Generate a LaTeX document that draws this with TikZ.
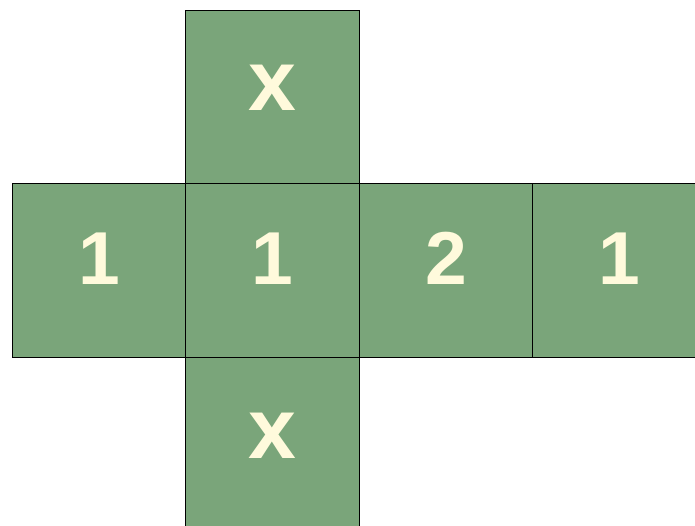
\documentclass[tikz,border=0pt]{standalone}
\usepackage{fontspec}
\setmainfont{Liberation Sans}
\usetikzlibrary{positioning}
\definecolor{colorFace}{HTML}{7AA57A}
\definecolor{colorMark}{HTML}{FFFADC}
\def\colorFace{colorFace}
\def\colorMark{colorMark}

\begin{document}
\begin{tikzpicture}[x=1pt, y=1pt,
    face/.style={draw=black, line width=0.9pt, fill=\colorFace, minimum size=173.5pt, inner sep=0pt, outer sep=0pt},
    facemark/.style={text=\colorMark, font=\bfseries\fontsize{75pt}{75pt}\selectfont, inner sep=0pt}
  ]

    \useasboundingbox (0,0) rectangle (695,-526);

    % faces of the net
    \node[face] (mid) at (272.5,-270.5) {};
    \node[face, above=0pt of mid] (top) {};
    \node[face, below=0pt of mid] (bot) {};
    \node[face, left=0pt of mid] (left) {};
    \node[face, right=0pt of mid] (right) {};
    \node[face, right=0pt of right] (far) {};

    % numbers on the faces
    \node[facemark] (nmid) at ([yshift=12pt]mid.center) {1};
    \node[facemark] (nleft) at ([yshift=12pt]left.center) {1};
    \node[facemark] (nright) at ([yshift=12pt]right.center) {2};
    \node[facemark] (nfar) at ([yshift=12pt]far.center) {1};
    \node[facemark, font=\bfseries\fontsize{86pt}{86pt}\selectfont] (ntop) at ([yshift=9pt]top.center) {x};
    \node[facemark, font=\bfseries\fontsize{86pt}{86pt}\selectfont] (nbot) at ([yshift=8pt]bot.center) {x};

\end{tikzpicture}
\end{document}
